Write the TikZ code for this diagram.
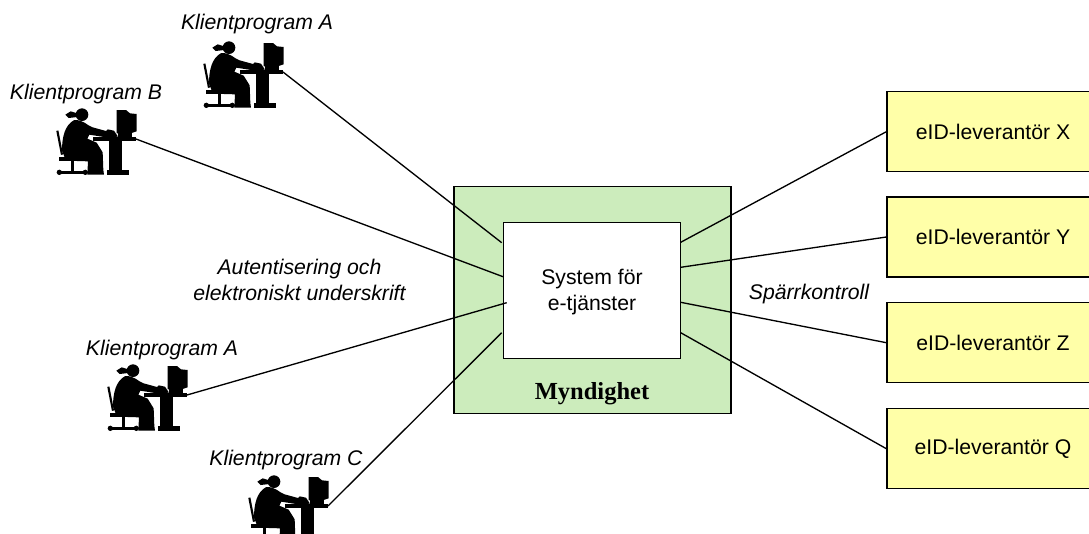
\documentclass[tikz,border=0pt]{standalone}
\usepackage{fontspec}
\setmainfont{Liberation Sans}
\newfontfamily\serifbold{Liberation Serif}[Ligatures=TeX]
\definecolor{myndgreen}{HTML}{CCECBC}
\definecolor{levyellow}{HTML}{FFFFA8}
\tikzset{
	lev/.style={draw,line width=1pt,fill=levyellow,minimum width=159pt,minimum height=60pt,font=\fontsize{15.9}{19.5}\selectfont},
	klient/.style={font=\fontsize{15.9}{19.5}\selectfont\itshape,align=center},
	conn/.style={line width=1pt},
	pics/clerk/.style={code={
		\begin{scope}[x=.25pt,y=-.25pt,shift={(-280,-125)}]
		\fill (118,52) circle (19);
		\fill (104,48)--(84,42)--(68,52)--(78,62)--(104,59)--cycle;
		\fill (95,68)..controls (125,68) and (130,83)..(150,90)--(190,101)--(195,96)--(214,100)--(226,118)--(190,120)--(140,112)--(134,124)--(162,136)--(180,165)--(182,218)--(184,232)--(134,232)--(136,192)--(70,190)--(58,160)..controls (58,120) and (66,83)..(95,68)--cycle;
		\draw[line width=1.6pt] (44,100)--(58,172);
		\fill (50,178)--(128,178)--(128,191)--(50,191)--cycle;
		\fill (85,190) rectangle (95,222);
		\fill (52,220) rectangle (132,230);
		\fill (50,225) circle (8) (128,225) circle (8);
		\fill (150,119) rectangle (280,132);
		\fill (198,130) rectangle (238,218);
		\fill (192,218) rectangle (258,233);
		\fill (222,38)--(250,38)--(262,48)--(282,50)--(282,102)--(264,108)--(222,108)--cycle;
		\fill (226,108) rectangle (268,119);
		\end{scope}
	}}
}
\begin{document}
\begin{tikzpicture}[x=.75pt,y=-.75pt]
	\useasboundingbox (0,0) rectangle (1089,533);
	\clip (0,0) rectangle (1089,533);
	% myndighet
	\node[draw,line width=1.2pt,fill=myndgreen,minimum width=207.5pt,minimum height=170pt] (myndighet) at (592.5,300){};
	\node[draw,fill=white,line width=1pt,minimum width=132.5pt,minimum height=102pt] (system) at (592,290.3){};
	\node[font=\fontsize{15.9}{19.5}\selectfont,align=center] (systext) at (592,292.5){System för\\e-tjänster};
	\node[font=\fontsize{18.4}{22}\serifbold\bfseries\selectfont] (myndlabel) at (592,394){Myndighet};
	% leverantorer
	\node[lev] (levX) at (993,131.7){eID-leverantör X};
	\node[lev] (levY) at (993,237){eID-leverantör Y};
	\node[lev] (levZ) at (993,342.7){eID-leverantör Z};
	\node[lev] (levQ) at (993,448.7){eID-leverantör Q};
	% klienter
	\coordinate (klientA) at (283,72);
	\coordinate (klientB) at (136,139);
	\coordinate (klientD) at (187,395);
	\coordinate (klientC) at (328,506);
	\pic at (klientA) {clerk};
	\pic at (klientB) {clerk};
	\pic at (klientD) {clerk};
	\pic at (klientC) {clerk};
	\node[klient] (textA) at (257,24){Klientprogram A};
	\node[klient] (textB) at (86,94){Klientprogram B};
	\node[klient] (textD) at (162,350){Klientprogram A};
	\node[klient] (textC) at (286,460){Klientprogram C};
	\node[klient] (autent) at (299.5,280){Autentisering och\\elektroniskt underskrift};
	\node[klient] (sparr) at (809,294){Spärrkontroll};
	% anslutningar
	\coordinate (inA) at (501.7,242.7);
	\coordinate (inB) at (503,276.7);
	\coordinate (inD) at (506.7,302.7);
	\coordinate (inC) at (501.7,332.7);
	\coordinate (utX) at (680.7,242.3);
	\coordinate (utY) at (680.7,267.3);
	\coordinate (utZ) at (680.7,302.3);
	\coordinate (utQ) at (680.7,332.7);
	\draw[conn] (klientA)--(inA);
	\draw[conn] (klientB)--(inB);
	\draw[conn] (klientD)--(inD);
	\draw[conn] (klientC)--(inC);
	\draw[conn] (utX)--(levX.west);
	\draw[conn] (utY)--(levY.west);
	\draw[conn] (utZ)--(levZ.west);
	\draw[conn] (utQ)--(levQ.west);
\end{tikzpicture}
\end{document}
